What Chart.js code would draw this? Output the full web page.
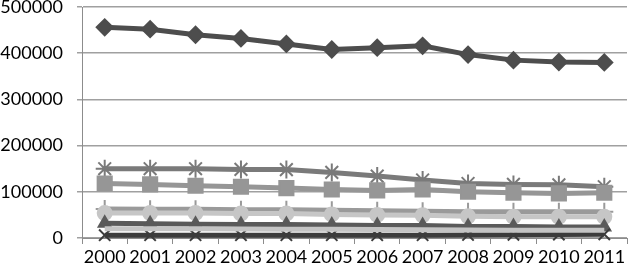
<!doctype html>
<html>
<head>
    <meta charset="utf-8" />
    <script src="https://cdn.jsdelivr.net/npm/chart.js@4"></script>
    <style>
        body { margin: 0; background: #fff; }
    </style>
</head>
<body>
    <div style="width: 629px; height: 272px">
        <canvas id="joonis"></canvas>
    </div>
    <script>
        // andmed loetud pildilt
        const aastad = ['2000', '2001', '2002', '2003', '2004', '2005', '2006', '2007', '2008', '2009', '2010', '2011'];
        const rombid = [456000, 452000, 440000, 432000, 420000, 408000, 412000, 416000, 397000, 385000, 381000, 380000];
        const ruudud = [118000, 116000, 113000, 111000, 108000, 105000, 103000, 105000, 100000, 98000, 96500, 98000];
        const kolmnurgad = [32000, 31000, 30000, 29000, 29000, 28000, 27000, 27000, 25000, 25000, 24000, 24000];
        const ristid = [6000, 6000, 6000, 6000, 6000, 6000, 6000, 6000, 6500, 7000, 7500, 8000];
        const tarnid = [150000, 150000, 150000, 148500, 148000, 142000, 134000, 125500, 118000, 116000, 115000, 111000];
        const ringid = [54000, 54000, 54000, 53000, 53000, 51000, 50000, 49000, 47000, 46000, 46000, 46000];
        const plussid = [63000, 62000, 62000, 61000, 61000, 60000, 59000, 58000, 57000, 57000, 57000, 57000];
        const jooned = [20000, 20000, 20000, 19500, 19000, 19000, 18500, 18000, 17500, 17000, 17000, 17000];
        const yMarkid = [0, 100000, 200000, 300000, 400000, 500000];

        function seeria(andmed, varv, stiil, raadius, markeriVarv) {
            return {
                data: andmed,
                borderColor: varv,
                backgroundColor: markeriVarv || varv,
                pointBorderColor: markeriVarv || varv,
                pointBackgroundColor: markeriVarv || varv,
                borderWidth: 5,
                pointStyle: stiil,
                pointRadius: raadius,
                pointBorderWidth: 2,
                tension: 0,
                clip: false
            };
        }

        new Chart(document.getElementById('joonis'), {
            type: 'line',
            data: {
                labels: aastad,
                datasets: [
                    seeria(jooned, '#c4c4c4', 'line', 0),
                    seeria(ristid, '#3c3c3c', 'crossRot', 8),
                    seeria(kolmnurgad, '#5a5a5a', 'triangle', 7),
                    seeria(ringid, '#c6c6c6', 'circle', 7),
                    seeria(plussid, '#9a9a9a', 'cross', 9),
                    seeria(ruudud, '#969696', 'rect', 10),
                    seeria(tarnid, '#7a7a7a', 'star', 9),
                    seeria(rombid, '#4d4d4d', 'rectRot', 8)
                ]
            },
            options: {
                responsive: true,
                maintainAspectRatio: false,
                animation: false,
                layout: { autoPadding: false, padding: { top: 7, right: 2, left: 0, bottom: 0 } },
                plugins: { legend: { display: false }, tooltip: { enabled: false } },
                scales: {
                    x: {
                        offset: true,
                        grid: {
                            offset: true,
                            drawOnChartArea: false,
                            drawTicks: true,
                            tickLength: 6,
                            color: '#8c8c8c'
                        },
                        border: { color: '#8c8c8c', width: 1 },
                        ticks: {
                            color: '#000',
                            font: { family: 'Lato', size: 18 },
                            padding: 2,
                            maxRotation: 0,
                            autoSkip: false
                        },
                        afterFit: function (s) {
                            s.height = 34;
                            s.paddingLeft = 0;
                            s.paddingRight = 0;
                        }
                    },
                    y: {
                        min: 0,
                        max: 500000,
                        afterBuildTicks: function (s) {
                            s.ticks = yMarkid.map(v => ({ value: v }));
                        },
                        grid: {
                            color: '#a0a0a0',
                            lineWidth: 1.5,
                            tickLength: 5
                        },
                        border: { color: '#8c8c8c', width: 1 },
                        ticks: {
                            color: '#000',
                            font: { family: 'Lato', size: 18 },
                            padding: 14,
                            callback: function (v) { return String(v); }
                        },
                        afterFit: function (s) {
                            s.width = 82;
                            s.paddingTop = 0;
                            s.paddingBottom = 0;
                        }
                    }
                }
            }
        });
    </script>
</body>
</html>
